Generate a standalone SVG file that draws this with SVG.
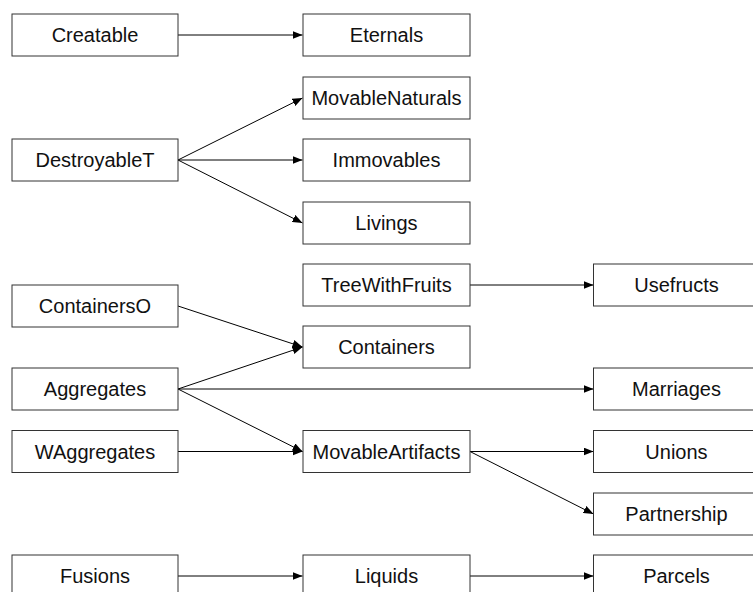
<svg xmlns="http://www.w3.org/2000/svg" width="753" height="592" viewBox="0 0 753 592">
<defs>
<marker id="arr" markerWidth="10" markerHeight="8" refX="10" refY="4" orient="auto" markerUnits="userSpaceOnUse">
<path d="M0,0 L10,4 L0,8 z" fill="#000"/>
</marker>
</defs>
<style>
rect{fill:#fff;stroke:#333;stroke-width:1}
text{font-family:"Liberation Sans",Arial,sans-serif;font-size:20px;font-weight:normal;fill:#111;text-anchor:middle}
.e line{stroke:#000;stroke-width:1;marker-end:url(#arr)}
</style>
<g class="e" id="connectors">
<line x1="178" y1="35" x2="302.5" y2="35"/>
<line x1="178" y1="160" x2="302.5" y2="98"/>
<line x1="178" y1="160" x2="302.5" y2="160"/>
<line x1="178" y1="160" x2="302.5" y2="223"/>
<line x1="470" y1="285" x2="593.5" y2="285"/>
<line x1="178" y1="306" x2="302.5" y2="347"/>
<line x1="178" y1="389" x2="302.5" y2="347"/>
<line x1="178" y1="389" x2="593.5" y2="389"/>
<line x1="178" y1="389" x2="302.5" y2="451.5"/>
<line x1="178" y1="451.5" x2="302.5" y2="451.5"/>
<line x1="470" y1="451.5" x2="593.5" y2="451.5"/>
<line x1="470" y1="451.5" x2="593.5" y2="514"/>
<line x1="178" y1="576" x2="302.5" y2="576"/>
<line x1="470" y1="576" x2="593.5" y2="576"/>
</g>
<g id="Creatable"><rect x="12" y="14" width="166" height="42"/><text x="95" y="42">Creatable</text></g>
<g id="DestroyableT"><rect x="12" y="139" width="166" height="42"/><text x="95" y="167">DestroyableT</text></g>
<g id="ContainersO"><rect x="12" y="285" width="166" height="42"/><text x="95" y="313">ContainersO</text></g>
<g id="Aggregates"><rect x="12" y="368" width="166" height="42"/><text x="95" y="396">Aggregates</text></g>
<g id="WAggregates"><rect x="12" y="430.5" width="166" height="42"/><text x="95" y="458.5">WAggregates</text></g>
<g id="Fusions"><rect x="12" y="555" width="166" height="42"/><text x="95" y="583">Fusions</text></g>
<g id="Eternals"><rect x="303" y="14" width="167" height="42"/><text x="386.5" y="42">Eternals</text></g>
<g id="MovableNaturals"><rect x="303" y="77" width="167" height="42"/><text x="386.5" y="105">MovableNaturals</text></g>
<g id="Immovables"><rect x="303" y="139" width="167" height="42"/><text x="386.5" y="167">Immovables</text></g>
<g id="Livings"><rect x="303" y="202" width="167" height="42"/><text x="386.5" y="230">Livings</text></g>
<g id="TreeWithFruits"><rect x="303" y="264" width="167" height="42"/><text x="386.5" y="292">TreeWithFruits</text></g>
<g id="Containers"><rect x="303" y="326" width="167" height="42"/><text x="386.5" y="354">Containers</text></g>
<g id="MovableArtifacts"><rect x="303" y="430.5" width="167" height="42"/><text x="386.5" y="458.5">MovableArtifacts</text></g>
<g id="Liquids"><rect x="303" y="555" width="167" height="42"/><text x="386.5" y="583">Liquids</text></g>
<g id="Usefructs"><rect x="593.5" y="264" width="166" height="42"/><text x="676.5" y="292">Usefructs</text></g>
<g id="Marriages"><rect x="593.5" y="368" width="166" height="42"/><text x="676.5" y="396">Marriages</text></g>
<g id="Unions"><rect x="593.5" y="430.5" width="166" height="42"/><text x="676.5" y="458.5">Unions</text></g>
<g id="Partnership"><rect x="593.5" y="493" width="166" height="42"/><text x="676.5" y="521">Partnership</text></g>
<g id="Parcels"><rect x="593.5" y="555" width="166" height="42"/><text x="676.5" y="583">Parcels</text></g>
</svg>
